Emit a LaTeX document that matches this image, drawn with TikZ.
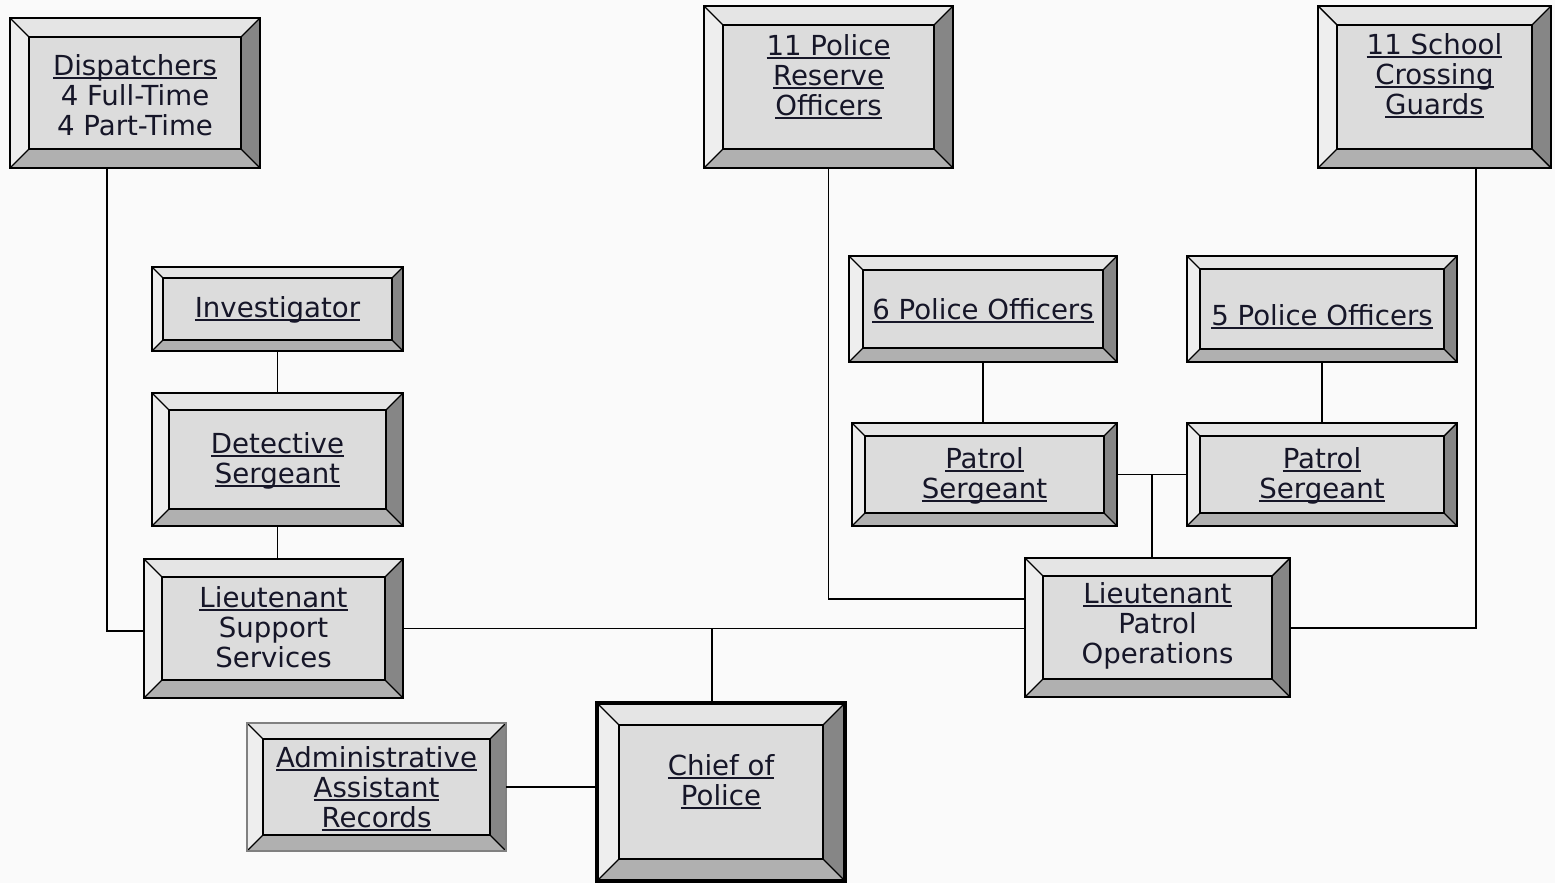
\documentclass[tikz,border=0pt]{standalone}
\usepackage{fontspec}
\setmainfont{DejaVu Sans}
\definecolor{bg}{RGB}{250,250,250}
\definecolor{face}{RGB}{220,220,220}
\definecolor{bevT}{RGB}{229,229,229}
\definecolor{bevL}{RGB}{238,238,238}
\definecolor{bevR}{RGB}{134,134,134}
\definecolor{bevB}{RGB}{176,176,176}
\definecolor{ink}{RGB}{22,22,40}
\newcommand{\ulx}[1]{\setbox0=\hbox{#1}\rlap{\rule[-1.7pt]{\wd0}{0.9pt}}\box0}
\tikzset{
  conn/.style={line width=0.8pt, black},
  txt/.style={align=center, text=ink, font=\fontsize{13.8}{15}\selectfont, inner sep=0pt},
  outl/.style={line width=1pt, black},
  chiefoutl/.style={line width=1.6pt, black},
  grayoutl/.style={line width=1pt, black!50},
  innerl/.style={line width=0.7pt, black},
}
% #1 name, #2 x1, #3 y1, #4 x2, #5 y2, #6 bevel, #7 outline style, #8 text centre y, #9 text
\newcommand{\bbox}[9]{%
  \node[inner sep=0pt, outer sep=0pt, minimum width={(#4-#2)*0.5pt}, minimum height={(#5-#3)*0.5pt}, fill=face] (#1) at ({(#2+#4)/2},{(#3+#5)/2}) {};
  \fill[bevT] (#2,#3) -- (#4,#3) -- (#4-#6,#3+#6) -- (#2+#6,#3+#6) -- cycle;
  \fill[bevB] (#2,#5) -- (#4,#5) -- (#4-#6,#5-#6) -- (#2+#6,#5-#6) -- cycle;
  \fill[bevL] (#2,#3) -- (#2+#6,#3+#6) -- (#2+#6,#5-#6) -- (#2,#5) -- cycle;
  \fill[bevR] (#4,#3) -- (#4-#6,#3+#6) -- (#4-#6,#5-#6) -- (#4,#5) -- cycle;
  \draw[innerl] (#2+#6,#3+#6) rectangle (#4-#6,#5-#6);
  \draw[innerl] (#2,#3) -- (#2+#6,#3+#6) (#4,#3) -- (#4-#6,#3+#6)
                (#2,#5) -- (#2+#6,#5-#6) (#4,#5) -- (#4-#6,#5-#6);
  \draw[#7] (#1.north west) rectangle (#1.south east);
  \node[txt] (#1-t) at ({(#2+#4)/2},#8+2) {#9};
}
\begin{document}
\begin{tikzpicture}[x=0.5pt,y=-0.5pt]
\fill[bg] (0,0) rectangle (1555,883);
\useasboundingbox (0,0) rectangle (1555,883);

\coordinate (d1) at (107,631);
\coordinate (j1) at (712,629);
\coordinate (r1) at (829,599);
\coordinate (s1) at (1476,628);
\coordinate (j2) at (1152,474.5);

\bbox{disp}{10}{18}{260}{168}{19}{outl}{93}{\ulx{Dispatchers}\\4 Full-Time\\4 Part-Time}
\bbox{res}{704}{6}{953}{168}{19}{outl}{75}{\ulx{11 Police}\\\ulx{Reserve}\\\ulx{Officers}}
\bbox{guards}{1318}{6}{1551}{168}{19}{outl}{74}{\ulx{11 School}\\\ulx{Crossing}\\\ulx{Guards}}
\bbox{inv}{152}{267}{403}{351}{11}{outl}{308}{\ulx{Investigator}}
\bbox{det}{152}{393}{403}{526}{17}{outl}{459}{\ulx{Detective}\\\ulx{Sergeant}}
\bbox{ltss}{144}{559}{403}{698}{18}{outl}{625}{\ulx{Lieutenant}\\Support\\Services}
\bbox{admin}{247}{723}{506}{851}{16}{grayoutl}{787}{\ulx{Administrative}\\\ulx{Assistant}\\\ulx{Records}}
\bbox{chief}{597}{703}{845}{881}{22}{chiefoutl}{780}{\fontsize{13.8}{16}\selectfont\ulx{Chief of}\\\ulx{Police}}
\bbox{po6}{849}{256}{1117}{362}{14}{outl}{309}{\ulx{6 Police Officers}}
\bbox{ps1}{852}{423}{1117}{526}{13}{outl}{474}{\ulx{Patrol}\\\ulx{Sergeant}}
\bbox{po5}{1187}{256}{1457}{362}{13}{outl}{315}{\ulx{5 Police Officers}}
\bbox{ps2}{1187}{423}{1457}{526}{13}{outl}{474}{\ulx{Patrol}\\\ulx{Sergeant}}
\bbox{ltpo}{1025}{558}{1290}{697}{18}{outl}{624}{\ulx{Lieutenant}\\Patrol\\Operations}

\draw[conn] (disp.south -| d1) -- (d1) -- (ltss.west |- d1);
\draw[conn] (inv.south) -- (det.north);
\draw[conn] (det.south) -- (det.south |- ltss.north);
\draw[conn] (ltss.east) -- (ltpo.west |- ltss.east);
\draw[conn] (j1) -- (j1 |- chief.north);
\draw[conn] (admin.east) -- (chief.west |- admin.east);
\draw[conn] (res.south) -- (res.south |- r1) -- (ltpo.west |- r1);
\draw[conn] (guards.south -| s1) -- (s1) -- (ltpo.east |- s1);
\draw[conn] (po6.south) -- (po6.south |- ps1.north);
\draw[conn] (po5.south) -- (po5.south |- ps2.north);
\draw[conn] (ps1.east) -- (ps2.west |- ps1.east);
\draw[conn] (j2) -- (j2 |- ltpo.north);
\end{tikzpicture}
\end{document}
